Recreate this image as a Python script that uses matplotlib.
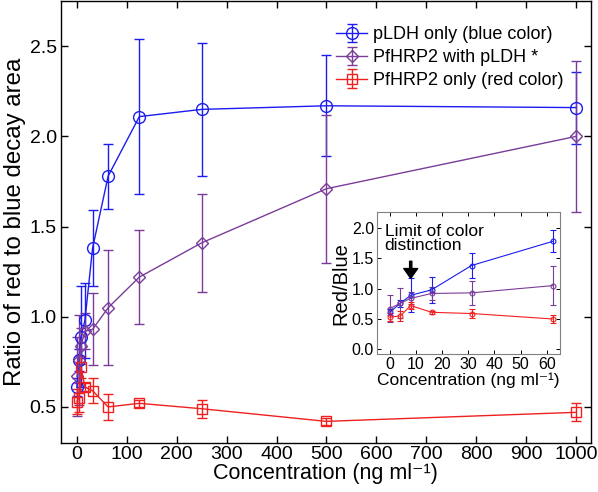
import numpy as np
import matplotlib.pyplot as plt

plt.rcParams.update({
    "font.family": ["Liberation Sans", "DejaVu Sans"],
    "xtick.direction": "in",
    "ytick.direction": "in",
    "xtick.top": True,
    "ytick.right": True,
    "axes.linewidth": 1.0,
})

# concentrations (ng/ml)
conc = [0, 4, 8, 16, 31.25, 62.5, 125, 250, 500, 1000]

pldh = [0.61, 0.76, 0.89, 0.98, 1.38, 1.78, 2.11, 2.15, 2.17, 2.16]
pldh_err = [0.05, 0.06, 0.28, 0.21, 0.21, 0.18, 0.43, 0.37, 0.28, 0.20]

hrp_pldh = [0.67, 0.76, 0.84, 0.92, 0.93, 1.05, 1.22, 1.41, 1.71, 2.00]
hrp_pldh_err = [0.22, 0.25, 0.10, 0.10, 0.20, 0.32, 0.26, 0.27, 0.41, 0.42]

hrp = [0.53, 0.55, 0.72, 0.61, 0.59, 0.50, 0.52, 0.49, 0.42, 0.47]
hrp_err = [0.07, 0.08, 0.06, 0.02, 0.07, 0.07, 0.02, 0.05, 0.02, 0.05]

n_inset = 6

BLUE = "#1c1cf0"
PURPLE = "#7a3c98"
RED = "#f02020"

fig = plt.figure(figsize=(5.98, 4.92), dpi=100)
ax = fig.add_axes([0.102, 0.0996, 0.886, 0.898])

series = [
    (pldh, pldh_err, BLUE, "o", 8.5, "pLDH only (blue color)"),
    (hrp_pldh, hrp_pldh_err, PURPLE, "D", 6.3, "PfHRP2 with pLDH *"),
    (hrp, hrp_err, RED, "s", 7, "PfHRP2 only (red color)"),
]

for y, e, c, m, ms, lab in series:
    ax.errorbar(conc, y, yerr=e, color=c, marker=m, ms=ms, mfc="none",
                mec=c, mew=1.0, lw=1.0, elinewidth=1.0, capsize=3.5,
                capthick=1.0, label=lab)

ax.set_xlim(-32, 1030)
ax.set_ylim(0.3, 2.75)
ax.set_xticks(np.arange(0, 1001, 100))
ax.set_yticks([0.5, 1.0, 1.5, 2.0, 2.5])
ax.set_yticklabels(["0.5", "1.0", "1.5", "2.0", "2.5"])
ax.tick_params(labelsize=14, length=5, width=1.0, pad=3)
ax.tick_params(axis="x", pad=2.5)
ax.set_xlabel("Concentration (ng ml\u207b\u00b9)", fontsize=15.5, labelpad=0)
ax.set_ylabel("Ratio of red to blue decay area", fontsize=17.3, labelpad=3)

ax.legend(loc="upper right", bbox_to_anchor=(0.98, 0.98), frameon=False,
          fontsize=13, handlelength=1.7, handletextpad=0.35,
          labelspacing=0.32)

# inset: low concentration range
ins = fig.add_axes([0.630, 0.280, 0.306, 0.289])
for y, e, c, m, ms, lab in series:
    ins.errorbar(conc[:n_inset], y[:n_inset], yerr=e[:n_inset], color=c,
                 marker="o", ms=3.5, mfc="none", mec=c, mew=0.8, lw=0.8,
                 elinewidth=0.8, capsize=2, capthick=0.8)

ins.set_xlim(-5, 65)
ins.set_ylim(-0.08, 2.26)
ins.set_xticks(np.arange(0, 61, 10))
ins.set_yticks([0.0, 0.5, 1.0, 1.5, 2.0])
ins.set_yticklabels(["0.0", "0.5", "1.0", "1.5", "2.0"])
ins.tick_params(labelsize=11.5, length=3, width=0.7, pad=2)
for s in ins.spines.values():
    s.set_color("#808080")
    s.set_linewidth(0.8)
ins.set_xlabel("Concentration (ng ml\u207b\u00b9)", fontsize=12.5, labelpad=0)
ins.set_ylabel("Red/Blue", fontsize=14.5, labelpad=1)

ins.text(-2, 2.06, "Limit of color\ndistinction", fontsize=12.5,
         va="top", ha="left", linespacing=0.9)
ins.annotate("", xy=(8, 1.17), xytext=(8, 1.45),
             arrowprops=dict(facecolor="black", edgecolor="black",
                             width=1.6, headwidth=10, headlength=7))

fig.savefig("out.png", dpi=100)
